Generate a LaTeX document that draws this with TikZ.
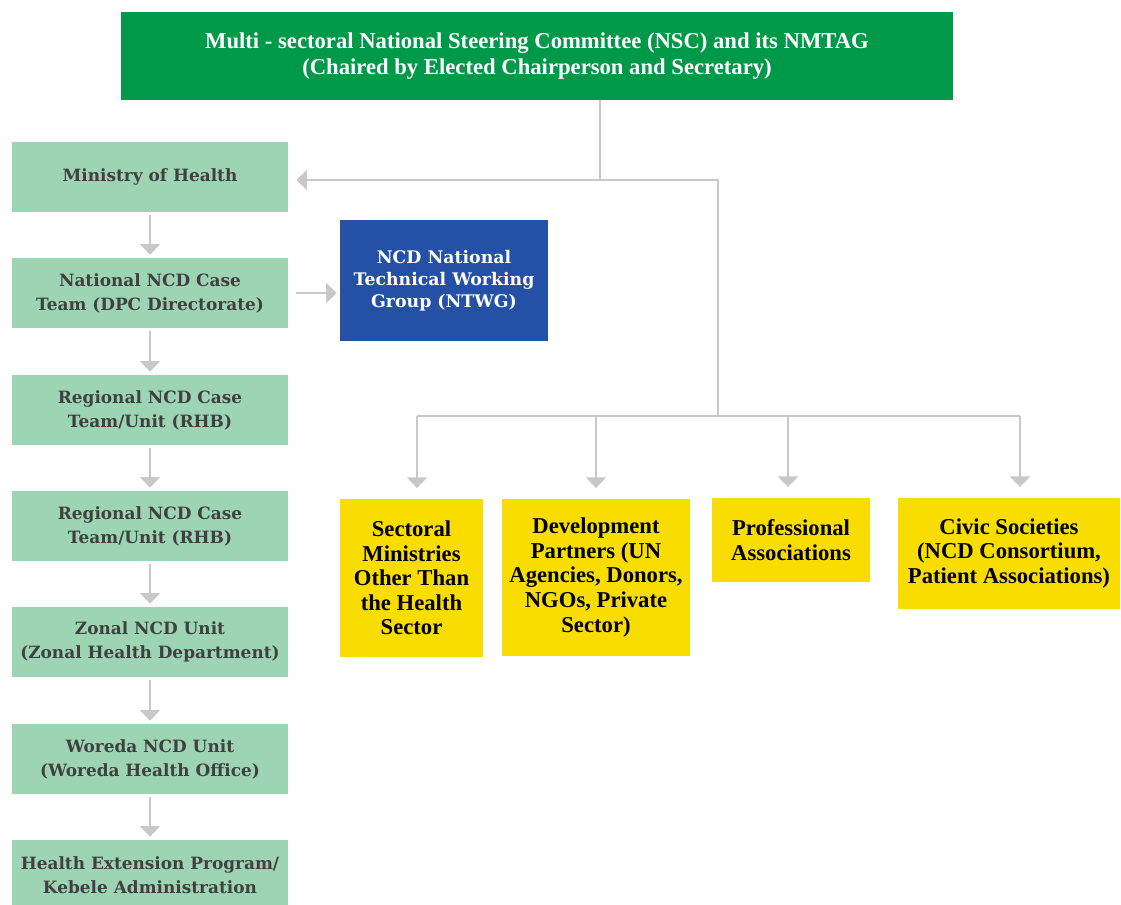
\documentclass[tikz,border=0pt]{standalone}
\usepackage{fontspec}
\setmainfont{Liberation Serif}
\newfontfamily\slabfont{DejaVu Serif}
\usetikzlibrary{arrows.meta}
\definecolor{topgreen}{HTML}{00994A}
\definecolor{lightgreen}{HTML}{9DD5B4}
\definecolor{ncdblue}{HTML}{2450A5}
\definecolor{yel}{HTML}{F9DD00}
\definecolor{linegray}{HTML}{C8C8C8}
\definecolor{darktext}{HTML}{404040}
\begin{document}
\begin{tikzpicture}[x=0.75pt,y=-0.75pt,
  conn/.style={draw=linegray,line width=1.5pt},
  arr/.style={conn,-{Triangle[width=15pt,length=8pt]},color=linegray},
  leftbox/.style={fill=lightgreen,draw=none,minimum width=207pt,minimum height=52.5pt,
    align=center,text=darktext,font=\slabfont\bfseries\fontsize{12.7}{18}\selectfont,inner sep=0pt},
  ybox/.style={fill=yel,draw=none,align=center,text=black,inner sep=0pt,
    font=\bfseries\fontsize{17}{18.4}\selectfont},
  ]
\useasboundingbox (0,0) rectangle (1121,904);
% top box
\node[fill=topgreen,minimum width=624pt,minimum height=66pt,text=white,align=center,inner sep=0pt,
  font=\bfseries\fontsize{17}{20}\selectfont] (nsc) at (537,56)
  {Multi - sectoral National Steering Committee (NSC) and its NMTAG\\(Chaired by Elected Chairperson and Secretary)};
% left column
\node[leftbox] (moh) at (150,177) {Ministry of Health};
\node[leftbox] (nat) at (150,293) {National NCD Case\\Team (DPC Directorate)};
\node[leftbox] (reg1) at (150,410) {Regional NCD Case\\Team/Unit (RHB)};
\node[leftbox] (reg2) at (150,526) {Regional NCD Case\\Team/Unit (RHB)};
\node[leftbox] (zon) at (150,642) {Zonal NCD Unit\\(Zonal Health Department)};
\node[leftbox] (wor) at (150,759) {Woreda NCD Unit\\(Woreda Health Office)};
\node[leftbox] (hep) at (150,875) {Health Extension Program/\\Kebele Administration};
% NTWG
\node[fill=ncdblue,minimum width=156pt,minimum height=90.75pt,text=white,align=center,inner sep=0pt,
  font=\slabfont\bfseries\fontsize{13}{16.5}\selectfont] (ntwg) at (444,280.5)
  {NCD National\\Technical Working\\Group (NTWG)};
% yellow boxes
\node[ybox,minimum width=107.25pt,minimum height=118.5pt] (sect) at (411.5,578)
  {Sectoral\\Ministries\\Other Than\\the Health\\Sector};
\node[ybox,minimum width=141pt,minimum height=117.75pt] (dev) at (596,577.5)
  {Development\\Partners (UN\\Agencies, Donors,\\NGOs, Private\\Sector)};
\node[ybox,minimum width=118.5pt,minimum height=63pt] (prof) at (791,540)
  {Professional\\Associations};
\node[ybox,minimum width=166.5pt,minimum height=83.25pt] (civ) at (1009,553.5)
  {Civic Societies\\(NCD Consortium,\\Patient Associations)};
% connectors
\coordinate (j1) at (600,180);
\coordinate (j2) at (718,180);
\coordinate (j3) at (718,416);
\coordinate (b1) at (417,416);
\coordinate (b2) at (596,416);
\coordinate (b3) at (788,416);
\coordinate (b4) at (1020,416);
\draw[conn] (nsc.south -| j1) -- (j1);
\draw[arr,shorten >=6pt] (j2) -- (moh.east |- j2);
\draw[conn] (j1) -- (j2) -- (j3);
\draw[conn] (b1) -- (b4);
\draw[arr,shorten >=8pt] (b1) -- (b1 |- sect.north);
\draw[arr,shorten >=8pt] (b2) -- (b2 |- dev.north);
\draw[arr,shorten >=8pt] (b3) -- (b3 |- prof.north);
\draw[arr,shorten >=8pt] (b4) -- (b4 |- civ.north);
\draw[arr,shorten <=2.25pt,shorten >=2.25pt] (moh) -- (nat);
\draw[arr,shorten <=2.25pt,shorten >=2.25pt] (nat) -- (reg1);
\draw[arr,shorten <=2.25pt,shorten >=2.25pt] (reg1) -- (reg2);
\draw[arr,shorten <=2.25pt,shorten >=2.25pt] (reg2) -- (zon);
\draw[arr,shorten <=2.25pt,shorten >=2.25pt] (zon) -- (wor);
\draw[arr,shorten <=2.25pt,shorten >=2.25pt] (wor) -- (hep);
\draw[arr,shorten <=6pt,shorten >=2.25pt] (nat.east) -- (ntwg.west |- nat.east);
\end{tikzpicture}
\end{document}
